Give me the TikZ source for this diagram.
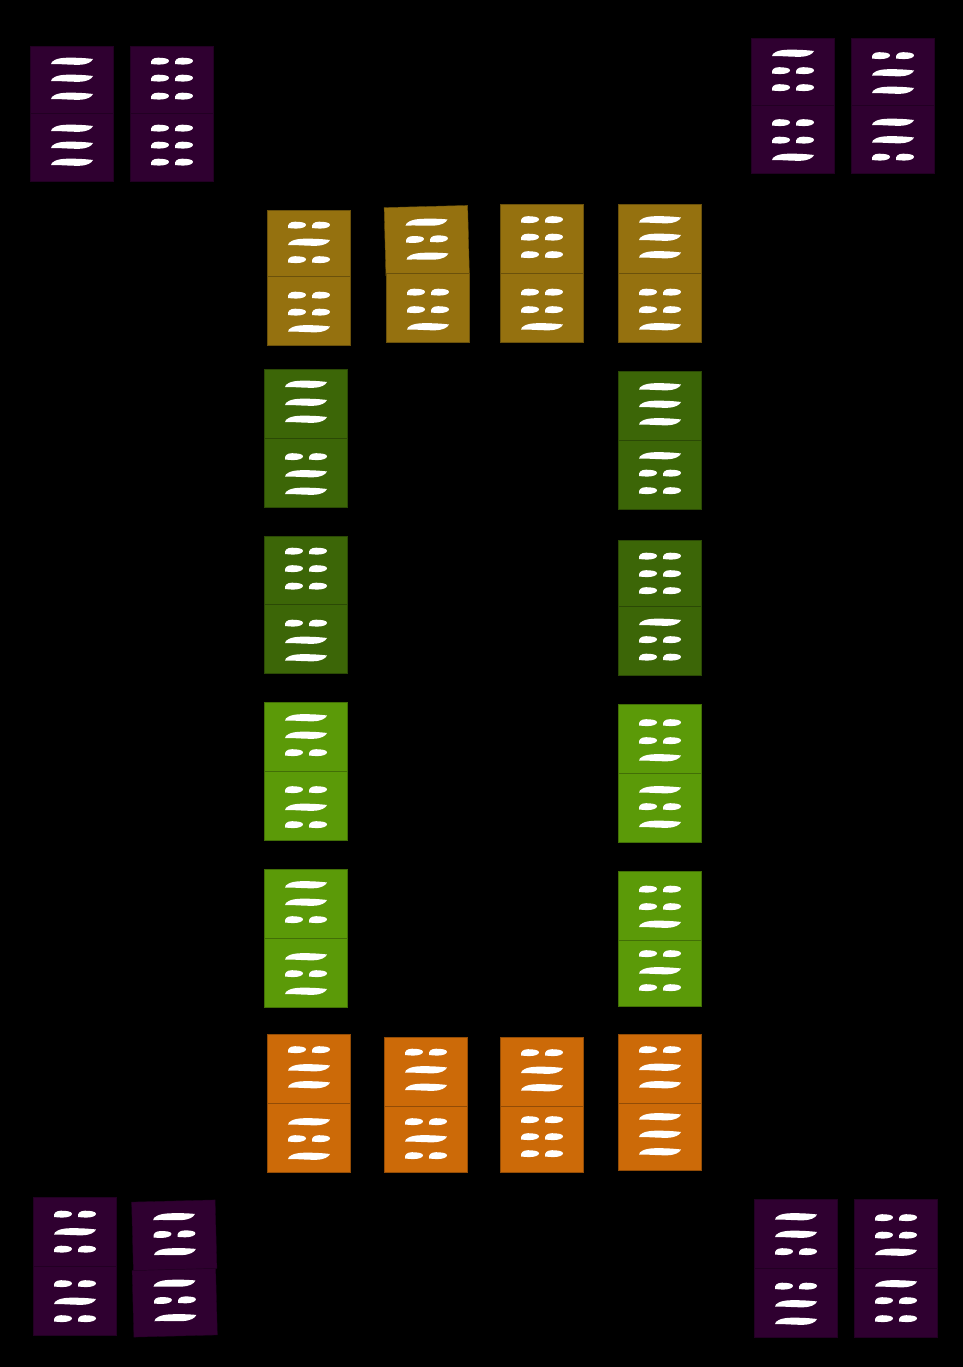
\documentclass[tikz,border=0pt]{standalone}
\definecolor{tpurple}{RGB}{47,0,48}
\definecolor{tgold}{RGB}{149,113,15}
\definecolor{tdgreen}{RGB}{60,102,7}
\definecolor{tlgreen}{RGB}{91,154,8}
\definecolor{torange}{RGB}{204,106,8}
\tikzset{
  halfbox/.style={draw=#1!72!black,line width=0.3pt,fill=#1},
  stroke/.style={fill=white}
}
% x-left, y-centre
\newcommand{\linS}[2]{\fill[stroke,shift={(#1,#2)}] (0,3.2) .. controls (-0.2,0) and (6,-3.2) .. (16,-3.3) .. controls (26,-3.5) and (36,-2.8) .. (42,-2) .. controls (40.5,1.2) and (36,3.6) .. (28,3.8) .. controls (18,3.9) and (8,2.7) .. (0,3.2) -- cycle;}
\newcommand{\blob}[2]{\fill[stroke,shift={(#1,#2)}] (0,3) .. controls (-0.6,-1) and (2,-3.3) .. (7,-3.3) .. controls (12,-3.3) and (18,-2.6) .. (18,-0.3) .. controls (18,2) and (14,3.6) .. (8,3.6) .. controls (5,3.6) and (2,3.1) .. (0,3) -- cycle;}
\newcommand{\linB}[2]{\blob{#1}{#2}\blob{#1+24}{#2}}
% colour, x-left, top, bottom, list of type/y
\newcommand{\hh}[5]{%
  \path[halfbox=#1] (#2,#3) rectangle (#2+83.5,#4);
  \foreach \m/\yy in {#5}{\csname lin\m\endcsname{#2+21}{\yy}}%
}
\begin{document}
\begin{tikzpicture}[x=0.75pt,y=-0.75pt]
\useasboundingbox (0,0) rectangle (963,1367);
\fill[black] (0,0) rectangle (963,1367);
% top left
\hh{tpurple}{30}{46}{113.5}{S/61,S/78,S/96}
\hh{tpurple}{30}{113.5}{181}{S/128,S/145,S/162}
\hh{tpurple}{130}{46}{113}{B/61,B/78,B/96}
\hh{tpurple}{130}{113}{181}{B/128,B/145,B/162}
% top right
\hh{tpurple}{751}{38}{105.5}{S/53,B/70.5,B/87.5}
\hh{tpurple}{751}{105.5}{173}{B/122.5,B/140,S/157}
\hh{tpurple}{851}{38}{105.5}{B/55.5,S/72.5,S/90}
\hh{tpurple}{851}{105.5}{173}{S/122,S/139.5,B/157}
% gold
\hh{tgold}{267}{210}{276}{B/225,S/242,B/259.5}
\hh{tgold}{267}{276}{345}{B/295,B/312,S/328.5}
\begin{scope}[rotate around={1.5:(427,240)}]
\hh{tgold}{385}{206.5}{274.5}{S/222,B/239,S/256}
\end{scope}
\hh{tgold}{386}{273.5}{342.5}{B/292,B/309.5,S/326.5}
\hh{tgold}{500}{204.5}{273.5}{B/219.5,B/237,B/254.5}
\hh{tgold}{500}{273.5}{342.5}{B/292,B/309.5,S/326.5}
\hh{tgold}{618}{204.5}{273.5}{S/219.5,S/237,S/254.5}
\hh{tgold}{618}{273.5}{342.5}{B/292,B/309.5,S/326.5}
% dark green
\hh{tdgreen}{264}{369}{438.5}{S/384,S/402,S/419}
\hh{tdgreen}{264}{438.5}{507.5}{B/456.5,S/473.5,S/491}
\hh{tdgreen}{618}{371}{440.5}{S/386.5,S/404,S/421.5}
\hh{tdgreen}{618}{440.5}{509}{S/455.5,B/473,B/490.5}
\hh{tdgreen}{264}{536}{604.5}{B/551,B/568.5,B/586}
\hh{tdgreen}{264}{604.5}{673.5}{B/623,S/640,S/657.5}
\hh{tdgreen}{618}{540.5}{606.5}{B/556,B/573.5,B/590.5}
\hh{tdgreen}{618}{606.5}{675.5}{S/622,B/639.5,B/657}
% light green
\hh{tlgreen}{264}{702}{771.5}{S/717.5,S/735,B/752.5}
\hh{tlgreen}{264}{771.5}{840.5}{B/789.5,S/807,B/824.5}
\hh{tlgreen}{618}{704.5}{773.5}{B/722.5,B/740.5,S/757.5}
\hh{tlgreen}{618}{773.5}{842.5}{S/789.5,B/806.5,S/824}
\hh{tlgreen}{264}{869}{938.5}{S/884.5,S/902,B/919.5}
\hh{tlgreen}{264}{938.5}{1007}{S/956.5,B/973.5,S/991}
\hh{tlgreen}{618}{871}{940.5}{B/889,B/906.5,S/924}
\hh{tlgreen}{618}{940.5}{1006.5}{B/953.5,S/970.5,B/987.5}
% orange
\hh{torange}{267}{1034.5}{1103.5}{B/1049.5,S/1067.5,S/1084.5}
\hh{torange}{267}{1103.5}{1172.5}{S/1121.5,B/1138.5,S/1156}
\hh{torange}{384}{1037}{1106}{B/1052,S/1069.5,S/1087}
\hh{torange}{384}{1106}{1172.5}{B/1121.5,S/1138.5,B/1155.5}
\hh{torange}{500}{1037}{1106}{B/1052.5,S/1070,S/1087.5}
\hh{torange}{500}{1106}{1172.5}{B/1119.5,B/1136.5,B/1153.5}
\hh{torange}{618}{1034.5}{1103}{B/1049.5,S/1067,S/1084.5}
\hh{torange}{618}{1103}{1170}{S/1116.5,S/1134,S/1151.5}
% bottom left
\hh{tpurple}{33}{1197}{1266.5}{B/1214,S/1231.5,B/1249}
\hh{tpurple}{33}{1266.5}{1335}{B/1283.5,S/1301,B/1318.5}
\begin{scope}[rotate around={1.5:(174,1235)}]
\hh{tpurple}{132.5}{1201}{1269.5}{S/1216.5,B/1234,S/1251.5}
\end{scope}
\begin{scope}[rotate around={1.5:(175,1303)}]
\hh{tpurple}{133}{1269.5}{1336}{S/1283,B/1300,S/1317.5}
\end{scope}
% bottom right
\hh{tpurple}{754}{1199}{1268.5}{S/1216.5,S/1234,B/1251.5}
\hh{tpurple}{754}{1268.5}{1337}{B/1286,S/1303.5,S/1321}
\hh{tpurple}{854}{1199}{1268.5}{B/1217.5,B/1235,S/1252}
\hh{tpurple}{854}{1268.5}{1337}{S/1283.5,B/1300.5,B/1318.5}
\end{tikzpicture}
\end{document}
